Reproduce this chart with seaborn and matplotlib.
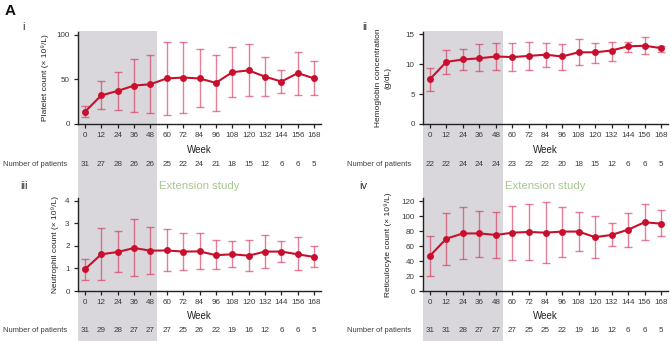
import matplotlib
matplotlib.use("Agg")
import matplotlib.pyplot as plt
from matplotlib.patches import Rectangle
from matplotlib.transforms import blended_transform_factory
import seaborn as sns
import pandas as pd

sns.set_theme(style="ticks")
plt.rcParams["font.family"] = ["Liberation Sans", "DejaVu Sans"]

weeks = [0, 12, 24, 36, 48, 60, 72, 84, 96, 108, 120, 132, 144, 156, 168]

platelet_mean = [13.5, 32, 37, 43, 44.5, 51, 52, 51, 46, 58, 60, 53, 47.5, 57, 51]
platelet_low = [8, 17, 16, 13, 12, 10, 12, 19, 15, 30, 31, 31, 35, 32, 32]
platelet_high = [20, 48, 58, 73, 77, 92, 92, 84, 77, 86, 90, 75, 60, 81, 71]
platelet_n = [31, 27, 28, 26, 26, 25, 22, 24, 21, 18, 15, 12, 6, 6, 5]

hgb_mean = [7.5, 10.4, 10.8, 11.0, 11.3, 11.2, 11.4, 11.6, 11.3, 12.0, 12.0, 12.3, 13.0, 13.1, 12.7]
hgb_low = [5.6, 8.4, 9.1, 8.8, 9.1, 8.8, 9.1, 9.6, 9.0, 9.8, 10.2, 10.6, 12.1, 11.7, 12.1]
hgb_high = [9.4, 12.4, 12.5, 13.4, 13.6, 13.5, 13.7, 13.6, 13.4, 14.2, 13.6, 13.8, 13.8, 14.5, 13.0]
hgb_n = [22, 22, 24, 24, 24, 23, 22, 22, 20, 18, 15, 12, 6, 6, 5]

neut_mean = [0.96, 1.63, 1.73, 1.91, 1.79, 1.80, 1.75, 1.76, 1.59, 1.63, 1.57, 1.75, 1.75, 1.63, 1.51]
neut_low = [0.49, 0.49, 0.83, 0.67, 0.74, 0.90, 0.92, 0.99, 0.96, 1.05, 0.89, 1.04, 1.27, 0.92, 1.05]
neut_high = [1.44, 2.81, 2.65, 3.21, 2.86, 2.77, 2.59, 2.59, 2.25, 2.22, 2.25, 2.49, 2.24, 2.39, 2.0]
neut_n = [31, 29, 28, 27, 27, 27, 25, 26, 22, 19, 16, 12, 6, 6, 5]

retic_mean = [47, 70, 77, 77, 75, 78, 79, 78, 79.5, 79.5, 72, 75, 82, 92, 90]
retic_low = [20.5, 35, 43, 46, 44, 42, 42, 37, 46, 53, 44, 60, 59, 68, 73]
retic_high = [74, 105, 112, 107, 106, 114, 116, 119, 113, 106, 100, 91.5, 105, 116, 108]
retic_n = [31, 31, 28, 27, 27, 27, 25, 25, 22, 19, 16, 12, 6, 6, 5]

LINE = "#c8102e"
BAR = "#d42a52"
SHADE = "#d9d7db"
GREEN = "#a6c78e"
TXT = "#3a3a3a"

W, H = 671, 341
fig = plt.figure(figsize=(W / 100, H / 100), dpi=100)


def box(x0, x1, ytop, ybot):
    return [x0 / W, 1 - ybot / H, (x1 - x0) / W, (ybot - ytop) / H]


panels = [
    dict(rect=box(78, 321, 32, 124), mean=platelet_mean, low=platelet_low, high=platelet_high,
         n=platelet_n, ylim=(0, 103), yticks=[0, 50, 100],
         ylabel="Platelet count (× 10⁹/L)", ylab_x=45, tag="i", tag_xy=(22, 27),
         row_y=164, week_y=150, np_x=3, ext=False),
    dict(rect=box(423, 668, 32, 124), mean=hgb_mean, low=hgb_low, high=hgb_high,
         n=hgb_n, ylim=(0, 15.4), yticks=[0, 5, 10, 15],
         ylabel="Hemoglobin concentration\n(g/dL)", ylab_x=383, tag="ii", tag_xy=(362, 27),
         row_y=164, week_y=150, np_x=347, ext=False),
    dict(rect=box(78, 321, 198, 291), mean=neut_mean, low=neut_low, high=neut_high,
         n=neut_n, ylim=(0, 4.13), yticks=[0, 1, 2, 3, 4],
         ylabel="Neutrophil count (× 10⁹/L)", ylab_x=55, tag="iii", tag_xy=(20, 186),
         row_y=331, week_y=316, np_x=3, ext=True),
    dict(rect=box(423, 668, 198, 291), mean=retic_mean, low=retic_low, high=retic_high,
         n=retic_n, ylim=(0, 124.4), yticks=[0, 20, 40, 60, 80, 100, 120],
         ylabel="Reticulocyte count (× 10⁹/L)", ylab_x=388, tag="iv", tag_xy=(359, 186),
         row_y=331, week_y=316, np_x=347, ext=True),
]

for i, p in enumerate(panels):
    ax = fig.add_axes(p["rect"])
    ax.set_facecolor("none")
    df = pd.DataFrame({"week": weeks, "value": p["mean"]})

    # whiskers (range) behind the mean line
    lo_err = [m - l for m, l in zip(p["mean"], p["low"])]
    hi_err = [h - m for m, h in zip(p["mean"], p["high"])]
    ax.errorbar(weeks, p["mean"], yerr=[lo_err, hi_err], fmt="none", ecolor=BAR,
                alpha=0.6, elinewidth=1.0, capsize=3.2, capthick=1.0, zorder=2)
    sns.lineplot(data=df, x="week", y="value", ax=ax, color=LINE, linewidth=1.5,
                 marker="o", markersize=5, markeredgewidth=0, zorder=3)

    ax.set_xlim(-5, 173)
    ax.set_ylim(*p["ylim"])
    ax.set_xticks(weeks)
    ax.set_xticklabels([str(w) for w in weeks])
    ax.set_yticks(p["yticks"])
    ax.tick_params(axis="both", direction="out", length=3, width=0.9, colors="#222222",
                   labelsize=5.8, labelcolor=TXT, pad=3)
    for s in ("top", "right"):
        ax.spines[s].set_visible(False)
    for s in ("left", "bottom"):
        ax.spines[s].set_linewidth(1.0)
        ax.spines[s].set_color("#222222")
    ax.set_xlabel("")
    ax.set_ylabel("")

    # baseline study period shading (weeks 0-48), running down through the patient row
    if i < 2:
        tr = blended_transform_factory(ax.transData, fig.transFigure)
        fig.add_artist(Rectangle((-5, 0), 58, 1 - 30.5 / H, transform=tr,
                                 facecolor=SHADE, edgecolor="none", zorder=-5))

    ftr = blended_transform_factory(ax.transData, fig.transFigure)
    for w, n in zip(weeks, p["n"]):
        fig.text(w, 1 - p["row_y"] / H, str(n), transform=ftr, ha="center", va="center",
                 fontsize=5.8, color=TXT)
    fig.text(p["np_x"] / W, 1 - p["row_y"] / H, "Number of patients", ha="left",
             va="center", fontsize=5.4, color=TXT)
    fig.text(84, 1 - p["week_y"] / H, "Week", transform=ftr, ha="center", va="center",
             fontsize=7, color="#222222")
    fig.text(p["ylab_x"] / W, p["rect"][1] + p["rect"][3] / 2, p["ylabel"], rotation=90,
             ha="center", va="center", fontsize=6, color="#222222", linespacing=1.5)
    fig.text(p["tag_xy"][0] / W, 1 - p["tag_xy"][1] / H, p["tag"], ha="left", va="center",
             fontsize=8, color="#333333")
    if p["ext"]:
        fig.text(54.5, 1 - 186 / H, "Extension study", transform=ftr, ha="left",
                 va="center", fontsize=8.2, color=GREEN)

fig.text(5 / W, 1 - 11 / H, "A", ha="left", va="center", fontsize=11, fontweight="bold",
         color="#111111")

fig.savefig("out.png", dpi=100)
